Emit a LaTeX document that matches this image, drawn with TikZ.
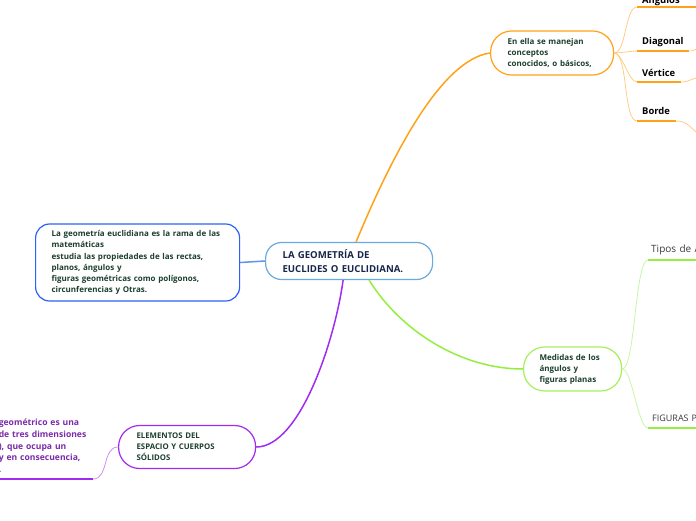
\documentclass[tikz,border=0pt]{standalone}
\usepackage{fontspec}
\setmainfont{Open Sans}
\usetikzlibrary{positioning}

\definecolor{inkgreen}{HTML}{1C3F2E}
\definecolor{inknavy}{HTML}{17264A}
\definecolor{rootblue}{HTML}{6AAAE0}
\definecolor{linkblue}{HTML}{5C95E8}
\definecolor{noteblue}{HTML}{2D62F2}
\definecolor{orangebr}{HTML}{FFA21A}
\definecolor{orangelt}{HTML}{FFC878}
\definecolor{limebr}{HTML}{94EE3F}
\definecolor{limenode}{HTML}{A6F05C}
\definecolor{limelt}{HTML}{C2F59A}
\definecolor{purplebr}{HTML}{A12BF2}
\definecolor{purplelt}{HTML}{C584F2}
\definecolor{purpletxt}{HTML}{7B2AA8}
\definecolor{greytxt}{HTML}{3A3A3A}

\begin{document}
\begin{tikzpicture}[x=1pt,y=-1pt,
    topic/.style={draw,line width=1.2pt,fill=white,anchor=west,align=left,text=inkgreen,
        inner ysep=0pt,font=\bfseries\fontsize{8}{10.6}\selectfont},
    leaf/.style={anchor=south west,align=left,inner xsep=5pt,inner ysep=6pt,text depth=0pt,
        font=\bfseries\fontsize{9.4}{11}\selectfont},
    branch/.style={line width=1.5pt},
    twig/.style={line width=0.7pt},
    uline/.style={line width=1.6pt}]
    \useasboundingbox (0,0) rectangle (696,520);
    \clip (0,0) rectangle (696,520);

    % central topic and the note on its left
    \node[topic,draw=rootblue,text=inknavy,font=\bfseries\fontsize{9.6}{13.3}\selectfont,
          text width=133pt,inner xsep=17pt,minimum height=37pt,rounded corners=16pt] (root) at (265,261)
          {LA GEOMETRÍA DE\\EUCLIDES O EUCLIDIANA.};
    \node[topic,draw=noteblue,font=\bfseries\fontsize{8}{11.2}\selectfont,
          text width=172pt,inner xsep=16pt,minimum height=77pt,rounded corners=14pt] (note) at (35,262.5)
          {La geometría euclidiana es la rama de las\\matemáticas\\estudia las propiedades de las rectas,\\planos, ángulos y\\figuras geométricas como polígonos,\\circunferencias y Otras.};

    % main branches
    \node[topic,draw=orangebr,text width=89pt,inner xsep=17pt,minimum height=44pt,rounded corners=21pt] (concepts) at (490,53)
          {En ella se manejan\\conceptos\\conocidos, o básicos,};
    \node[topic,draw=limenode,font=\bfseries\fontsize{8}{11}\selectfont,
          text width=66pt,inner xsep=16pt,minimum height=44pt,rounded corners=21pt] (medidas) at (523,369)
          {Medidas de los\\ángulos y\\figuras planas};
    \node[topic,draw=purplebr,font=\bfseries\fontsize{7.8}{11.2}\selectfont,
          text width=101pt,inner xsep=18pt,minimum height=43pt,rounded corners=21pt] (elementos) at (118,447)
          {ELEMENTOS DEL\\ESPACIO Y CUERPOS\\SÓLIDOS};

    % leaves
    \node[leaf,text width=60pt,inner ysep=3.5pt] (angulos) at (637,7) {Ángulos};
    \node[leaf,text width=42pt] (diagonal) at (637,51) {Diagonal};
    \node[leaf,text width=34pt,inner ysep=5pt] (vertice) at (637,82) {Vértice};
    \node[leaf,text width=29pt] (borde) at (637,121) {Borde};
    \node[leaf,font=\fontsize{10}{12}\selectfont,text=greytxt,inner xsep=3pt,inner ysep=7pt,text width=60pt] (tipos) at (648,260) {Tipos de Á};
    \node[leaf,font=\fontsize{9}{11}\selectfont,text=greytxt,inner xsep=4pt,inner ysep=6pt,text width=60pt] (figuras) at (648,428) {FIGURAS P};
    \node[anchor=south east,align=left,text width=94pt,inner xsep=0pt,inner ysep=6pt,
          text=purpletxt,font=\bfseries\fontsize{8.6}{11.8}\selectfont] (cuerpo) at (93,479)
          {geométrico es una\\de tres dimensiones\\), que ocupa un\\y en consecuencia,\\.};

    \coordinate (diagout) at (702,48);
    \coordinate (verout) at (702,77);
    \coordinate (bordeout) at (702,137);

    % connectors
    \draw[branch,linkblue] (root.west) -- (note.east);
    \draw[branch,orangebr] ([xshift=7pt]root.north) .. controls (390,160) and (440,60) .. (concepts.west);
    \draw[branch,limebr] ([xshift=20pt]root.south) .. controls (400,330) and (460,369) .. (medidas.west);
    \draw[branch,purplebr] ([xshift=-6pt]root.south) .. controls (335,340) and (300,447) .. (elementos.east);

    \path[twig,orangelt] (concepts.east) edge[out=0,in=180,looseness=0.6] (angulos.south west)
                         (concepts.east) edge[out=0,in=180,looseness=0.6] (diagonal.south west)
                         (concepts.east) edge[out=0,in=180,looseness=0.6] (vertice.south west)
                         (concepts.east) edge[out=0,in=180,looseness=0.5] (borde.south west)
                         (diagonal.south east) edge[out=0,in=180] (diagout)
                         (vertice.south east) edge[out=0,in=180] (verout);
    \draw[twig,orangelt] (borde.south east) .. controls (688,121) and (690,128) .. (bordeout);
    \path[twig,limelt] (medidas.east) edge[out=0,in=180,looseness=0.3] (tipos.south west)
                       (medidas.east) edge[out=0,in=180,looseness=0.4] (figuras.south west);
    \draw[twig,purplelt] (elementos.west) to[out=180,in=0] (cuerpo.south east);

    % underlines
    \foreach \leafname in {angulos,diagonal,vertice,borde}
        \draw[uline,orangebr] (\leafname.south west) -- (\leafname.south east);
    \foreach \leafname in {tipos,figuras}
        \draw[uline,limebr] (\leafname.south west) -- (\leafname.south east);
    \draw[uline,purplebr] (cuerpo.south east) -- (cuerpo.south west);
\end{tikzpicture}
\end{document}
